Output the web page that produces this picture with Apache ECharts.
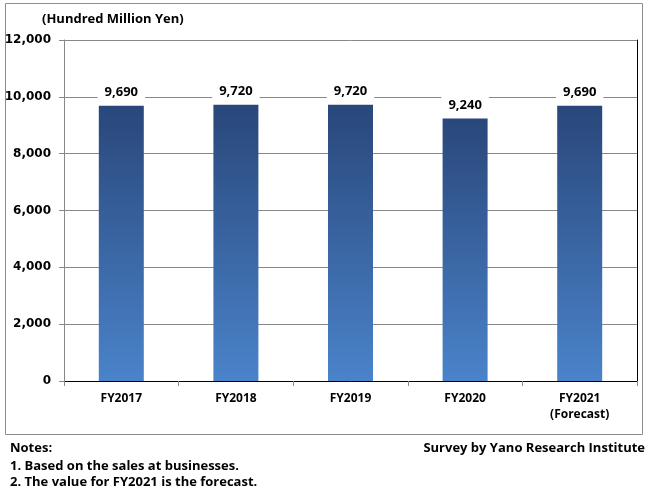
<!DOCTYPE html>
<html>
<head>
<meta charset="utf-8">
<script src="https://cdn.jsdelivr.net/npm/echarts@6/dist/echarts.min.js"></script>
<style>
html,body{margin:0;padding:0;background:#fff;}
#main{width:649px;height:492px;}
</style>
</head>
<body>
<div id="main"></div>
<script>
var categories = ["FY2017", "FY2018", "FY2019", "FY2020", "FY2021\n(Forecast)"];
var values = [9690, 9720, 9720, 9240, 9690];
var unitText = "(Hundred Million Yen)";
var notes = ["Notes:", "1. Based on the sales at businesses.", "2. The value for FY2021 is the forecast."];
var source = "Survey by Yano Research Institute";

var font = "Open Sans";
var textFont = "bold 13px 'Open Sans'";

var option = {
    animation: false,
    textStyle: {fontFamily: font},
    grid: {left: 64, right: 12, top: 40, bottom: 111},
    graphic: [
        {type: "rect", shape: {x: 5.5, y: 3.5, width: 637, height: 431}, style: {fill: "none", stroke: "#8c8c8c", lineWidth: 1}},
        {type: "text", left: 42, top: 13, style: {text: unitText, font: textFont, fill: "#000"}},
        {type: "text", left: 10, top: 442, style: {text: notes[0], font: textFont, fill: "#000"}},
        {type: "text", left: 10, top: 460, style: {text: notes[1], font: textFont, fill: "#000"}},
        {type: "text", left: 10, top: 476, style: {text: notes[2], font: textFont, fill: "#000"}},
        {type: "text", right: 4, top: 442, style: {text: source, font: textFont, fill: "#000"}}
    ],
    xAxis: [
        {
            type: "category",
            data: categories,
            axisLine: {lineStyle: {color: "#888", width: 1}},
            axisTick: {show: true, length: 5, lineStyle: {color: "#888"}},
            axisLabel: {color: "#000", fontWeight: "bold", fontSize: 12, margin: 10, lineHeight: 16, fontFamily: font}
        },
        {
            type: "category",
            position: "top",
            data: categories,
            axisLine: {show: true, lineStyle: {color: "#000", width: 1}},
            axisTick: {show: false},
            axisLabel: {show: false}
        }
    ],
    yAxis: [
        {
            type: "value",
            min: 0,
            max: 12000,
            interval: 2000,
            axisLine: {show: true, lineStyle: {color: "#888"}},
            axisTick: {show: true, length: 5, lineStyle: {color: "#888"}},
            splitLine: {lineStyle: {color: "#888", width: 1}},
            axisLabel: {
                color: "#000", fontWeight: "bold", fontSize: 12, margin: 13, fontFamily: "DejaVu Sans",
                formatter: function (v) { return v.toLocaleString("en-US"); }
            }
        },
        {
            type: "value",
            position: "right",
            min: 0,
            max: 12000,
            interval: 2000,
            axisLine: {show: true, lineStyle: {color: "#000"}},
            axisTick: {show: false},
            axisLabel: {show: false},
            splitLine: {show: false}
        }
    ],
    series: [
        {
            type: "bar",
            data: values,
            barWidth: 45,
            itemStyle: {
                color: {
                    type: "linear", x: 0, y: 0, x2: 0, y2: 1,
                    colorStops: [{offset: 0, color: "#29477a"}, {offset: 1, color: "#4a83ca"}]
                }
            },
            label: {
                show: true,
                position: "top",
                distance: 4,
                color: "#000",
                fontWeight: "bold",
                fontSize: 13,
                fontFamily: font,
                backgroundColor: "#fff",
                padding: [3, 7],
                formatter: function (p) { return p.value.toLocaleString("en-US"); }
            }
        }
    ]
};

var chart = echarts.init(document.getElementById("main"));
chart.setOption(option);
</script>
</body>
</html>
